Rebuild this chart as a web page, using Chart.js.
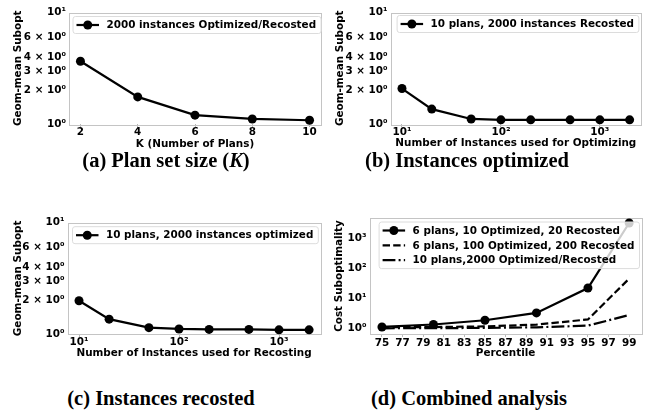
<!DOCTYPE html>
<html><head><meta charset="utf-8">
<script src="https://cdn.jsdelivr.net/npm/chart.js@4.4.0/dist/chart.umd.min.js"></script>
<style>
html,body{margin:0;padding:0;background:#fff;}
body{width:654px;height:415px;position:relative;overflow:hidden;}
canvas{position:absolute;}
.cap{position:absolute;font-family:"Liberation Serif","Times New Roman",serif;font-weight:bold;font-size:20.5px;white-space:nowrap;transform:translate(-50%,-50%);color:#000;}
</style></head><body>
<canvas id="ca" width="327" height="158" style="left:0;top:0"></canvas>
<canvas id="cb" width="327" height="158" style="left:327px;top:0"></canvas>
<canvas id="cc" width="327" height="160" style="left:0;top:200px"></canvas>
<canvas id="cd" width="327" height="160" style="left:327px;top:200px"></canvas>
<div class="cap" style="left:166px;top:160px">(a) Plan set size (<i>K</i>)</div>
<div class="cap" style="left:467px;top:160px">(b) Instances optimized</div>
<div class="cap" style="left:161px;top:398px">(c) Instances recosted</div>
<div class="cap" style="left:469px;top:398px">(d) Combined analysis</div>
<script>
// ---- data ----
const planCounts = [2, 4, 6, 8, 10];
const suboptByK = [3.65, 1.75, 1.20, 1.11, 1.08];
const optimizeInstances = [10, 20, 50, 100, 200, 500, 1000, 2000];
const suboptByOptimize = [2.08, 1.36, 1.11, 1.09, 1.09, 1.09, 1.09, 1.09];
const recostInstances = [10, 20, 50, 100, 200, 500, 1000, 2000];
const suboptByRecost = [1.99, 1.36, 1.14, 1.11, 1.10, 1.10, 1.09, 1.09];
const percentiles = [75, 80, 85, 90, 95, 99];
const cost6p10o20r = [1.13, 1.36, 1.88, 3.3, 22, 3150];
const cost6p100o200r = [1.10, 1.12, 1.18, 1.35, 2.0, 45];
const cost10p2000 = [1.02, 1.03, 1.05, 1.10, 1.25, 2.8];
// ---- tick labels ----
const geomTickValues = [1, 2, 3, 4, 6, 10];
const geomTickLabels = ['10\u2070', '2 \u00d7 10\u2070', '3 \u00d7 10\u2070', '4 \u00d7 10\u2070', '6 \u00d7 10\u2070', '10\u00b9'];
const kTickValues = [2, 4, 6, 8, 10];
const kTickLabels = ['2', '4', '6', '8', '10'];
const logXTickValues = [10, 100, 1000];
const logXTickLabels = ['10\u00b9', '10\u00b2', '10\u00b3'];
const pctTickValues = [75, 77, 79, 81, 83, 85, 87, 89, 91, 93, 95, 97, 99];
const pctTickLabels = pctTickValues.map(String);
const costTickValues = [1, 10, 100, 1000];
const costTickLabels = ['10\u2070', '10\u00b9', '10\u00b2', '10\u00b3'];

const FS = 10.4;
Chart.defaults.font.family = '"DejaVu Sans", sans-serif';
Chart.defaults.font.size = FS;
Chart.defaults.font.weight = 'bold';
Chart.defaults.color = '#000';

const framePlugin = {
  id: 'frame',
  beforeDatasetsDraw(chart) {
    const a = chart.chartArea, ctx = chart.ctx;
    ctx.save();
    ctx.strokeStyle = '#c4c4c4';
    ctx.lineWidth = 1;
    ctx.strokeRect(Math.round(a.left) + 0.5, Math.round(a.top) + 0.5, Math.round(a.right - a.left), Math.round(a.bottom - a.top));
    ctx.restore();
  }
};

const legendPlugin = {
  id: 'mplLegend',
  afterDatasetsDraw(chart, args, opts) {
    const ctx = chart.ctx, a = chart.chartArea, ds = chart.data.datasets;
    ctx.save();
    ctx.font = 'bold ' + FS + 'px "DejaVu Sans"';
    const tw = Math.max(...ds.map(d => ctx.measureText(d.label).width));
    const x0 = a.left + opts.dx, y0 = a.top + opts.dy;
    const padL = 3.5, handle = 22.5, gap = 7.5, padR = 5, rowH = 14.8;
    const w = padL + handle + gap + tw + padR;
    const h = 17 + rowH * (ds.length - 1);
    ctx.beginPath();
    ctx.roundRect(x0, y0, w, h, 2.5);
    ctx.fillStyle = 'rgba(255,255,255,0.8)';
    ctx.fill();
    ctx.strokeStyle = '#dcdcdc';
    ctx.lineWidth = 1;
    ctx.stroke();
    ds.forEach((d, i) => {
      const cy = y0 + 8.5 + rowH * i;
      ctx.beginPath();
      ctx.setLineDash(d.borderDash || []);
      ctx.strokeStyle = '#000';
      ctx.lineWidth = d.borderWidth;
      ctx.moveTo(x0 + padL, cy);
      ctx.lineTo(x0 + padL + handle, cy);
      ctx.stroke();
      ctx.setLineDash([]);
      if (d.pointRadius > 0) {
        ctx.beginPath();
        ctx.arc(x0 + padL + handle / 2, cy, d.pointRadius, 0, Math.PI * 2);
        ctx.fillStyle = '#000';
        ctx.fill();
      }
      ctx.fillStyle = '#000';
      ctx.textBaseline = 'middle';
      ctx.textAlign = 'left';
      ctx.fillText(d.label, x0 + padL + handle + gap, cy + 0.5);
    });
    ctx.restore();
  }
};

function series(label, xs, ys, dash, radius) {
  return {
    label, data: xs.map((x, i) => ({x, y: ys[i]})),
    borderColor: '#000', backgroundColor: '#000', borderWidth: 2.2,
    borderDash: dash, pointRadius: radius, pointHoverRadius: radius,
    pointBorderWidth: 0, tension: 0, clip: false
  };
}

function makeChart(id, o) {
  return new Chart(document.getElementById(id), {
    type: 'line',
    data: {datasets: o.datasets},
    options: {
      responsive: false, animation: false, devicePixelRatio: 1,
      layout: {padding: {left: 0, top: o.top, right: o.right, bottom: 0}},
      plugins: {legend: {display: false}, tooltip: {enabled: false}, mplLegend: {dx: o.ldx, dy: o.ldy}},
      scales: {
        x: {
          type: o.xType, min: o.xMin, max: o.xMax, position: 'bottom',
          afterFit(s) { s.height = o.xH; },
          afterBuildTicks(s) { s.ticks = o.xTicks.map(v => ({value: v})); },
          ticks: {callback: (v, i) => o.xLabels[i], autoSkip: false, maxRotation: 0, padding: o.xtkPad, color: '#000'},
          grid: {display: true, drawOnChartArea: false, drawTicks: true, tickLength: 3, color: '#b8b8b8'},
          border: {display: false},
          title: {display: true, text: o.xTitle, color: '#000', padding: {top: 0, bottom: o.xtPad}}
        },
        y: {
          type: 'logarithmic', min: o.yMin, max: o.yMax, position: 'left',
          afterFit(s) { s.width = o.yW; },
          afterBuildTicks(s) { s.ticks = o.yTicks.map(v => ({value: v})); },
          ticks: {callback: (v, i) => o.yLabels[i], autoSkip: false, padding: 3, color: '#000'},
          grid: {display: false, drawTicks: false, tickLength: 0},
          border: {display: false},
          title: {display: true, text: o.yTitle, color: '#000', padding: {top: o.ytPad, bottom: 0}}
        }
      }
    },
    plugins: [framePlugin, legendPlugin]
  });
}

makeChart('ca', {
  datasets: [series('2000 instances Optimized/Recosted', planCounts, suboptByK, [], 4.5)],
  top: 12.5, right: 6, xH: 34, yW: 69, xtPad: 7, xtkPad: -1, ytPad: 12, ldx: 4, ldy: 4,
  xType: 'linear', xMin: 1.6, xMax: 10.4, xTicks: kTickValues, xLabels: kTickLabels, xTitle: 'K (Number of Plans)',
  yMin: 1, yMax: 10, yTicks: geomTickValues, yLabels: geomTickLabels, yTitle: 'Geom-mean Subopt'
});
makeChart('cb', {
  datasets: [series('10 plans, 2000 instances Recosted', optimizeInstances, suboptByOptimize, [], 4.5)],
  top: 12.5, right: 13, xH: 34, yW: 63.6, xtPad: 8, xtkPad: -1, ytPad: 7, ldx: 6.5, ldy: 3,
  xType: 'logarithmic', xMin: 7.67, xMax: 2606, xTicks: logXTickValues, xLabels: logXTickLabels, xTitle: 'Number of Instances used for Optimizing',
  yMin: 1, yMax: 10, yTicks: geomTickValues, yLabels: geomTickLabels, yTitle: 'Geom-mean Subopt'
});
makeChart('cc', {
  datasets: [series('10 plans, 2000 instances optimized', recostInstances, suboptByRecost, [], 4.5)],
  top: 22.7, right: 6.4, xH: 26, yW: 67.5, xtPad: 0, xtkPad: -1, ytPad: 12, ldx: 5, ldy: 4,
  xType: 'logarithmic', xMin: 7.67, xMax: 2606, xTicks: logXTickValues, xLabels: logXTickLabels, xTitle: 'Number of Instances used for Recosting',
  yMin: 1, yMax: 10, yTicks: geomTickValues, yLabels: geomTickLabels, yTitle: 'Geom-mean Subopt'
});
makeChart('cd', {
  datasets: [
    series('6 plans, 10 Optimized, 20 Recosted', percentiles, cost6p10o20r, [], 4.5),
    series('6 plans, 100 Optimized, 200 Recosted', percentiles, cost6p100o200r, [7.4, 3.2], 0),
    series('10 plans,2000 Optimized/Recosted', percentiles, cost10p2000, [12.8, 3.2, 2, 3.2], 0)
  ],
  top: 18, right: 12.5, xH: 26, yW: 42.6, xtPad: 0, xtkPad: 0, ytPad: 6, ldx: 9.5, ldy: 4,
  xType: 'linear', xMin: 73.8, xMax: 100.2, xTicks: pctTickValues, xLabels: pctTickLabels, xTitle: 'Percentile',
  yMin: 0.66, yMax: 4600, yTicks: costTickValues, yLabels: costTickLabels, yTitle: 'Cost Suboptimality'
});
</script>
</body></html>
